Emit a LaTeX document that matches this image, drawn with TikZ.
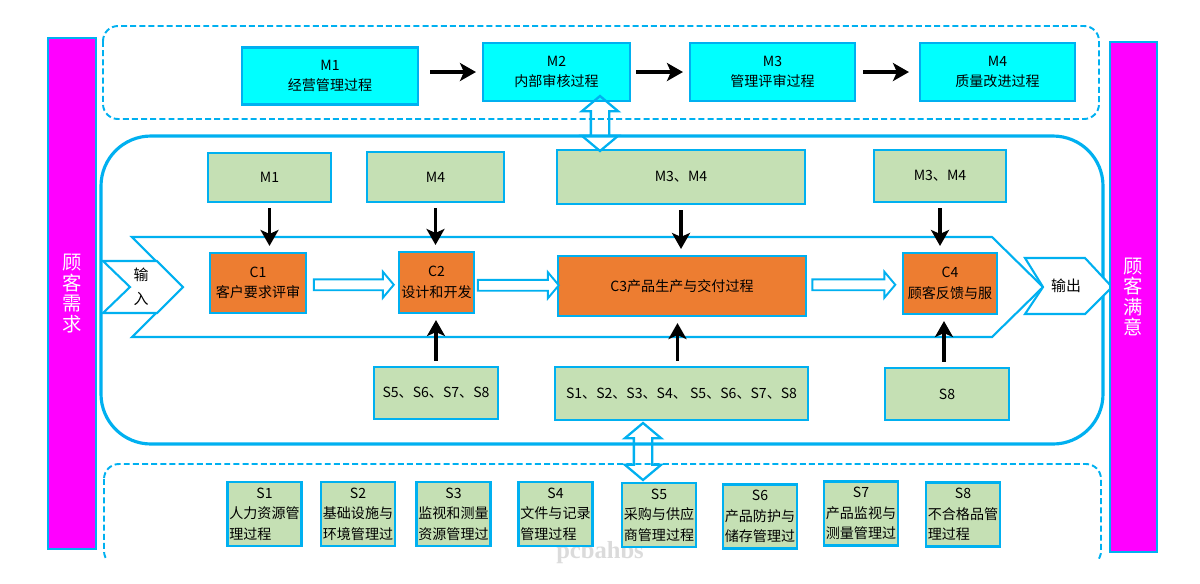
\documentclass[tikz,border=0pt]{standalone}
\usepackage{fontspec}
\setmainfont{Noto Sans CJK SC}
\newfontfamily\wmfont{Liberation Serif}
\usetikzlibrary{positioning}
\usetikzlibrary{calc}
\usetikzlibrary{shapes.arrows}
\usetikzlibrary{arrows.meta}
\definecolor{edgeblue}{HTML}{00B0F0}
\definecolor{mcyan}{HTML}{00FFFF}
\definecolor{resgreen}{HTML}{C5E0B4}
\definecolor{coreorange}{HTML}{ED7D31}
\definecolor{barpink}{HTML}{FF00FF}

\begin{document}
\begin{tikzpicture}[x=0.02cm,y=-0.02cm,
 font=\fontsize{8}{11.7}\selectfont,
 mproc/.style={draw=edgeblue,fill=mcyan,line width=1.2pt,inner sep=0pt,align=center},
 res/.style={draw=edgeblue,fill=resgreen,line width=1.2pt,inner sep=0pt,align=center},
 core/.style={draw=edgeblue,fill=coreorange,line width=1.2pt,inner sep=0pt,align=center},
 sproc/.style={draw=edgeblue,fill=resgreen,line width=1.2pt,inner sep=0pt,align=left,
   minimum width=1.48cm,minimum height=1.28cm},
 bar/.style={draw=edgeblue,fill=barpink,line width=1.2pt,inner sep=0pt,align=center,
   text=white,font=\fontsize{11}{11.6}\selectfont},
 frame/.style={draw=edgeblue,line width=1.1pt,dash pattern=on 3.4pt off 1.8pt,rounded corners=0.3cm},
 chev/.style={draw=edgeblue,fill=white,line width=1.2pt},
 blk/.style={line width=2.2pt,-{Stealth[length=0.32cm,width=0.36cm,inset=0.08cm]},
   shorten <=0.1cm,shorten >=0.12cm},
 flow/.style={single arrow,draw=edgeblue,fill=white,line width=1.1pt,inner sep=0.09cm,
   single arrow head extend=0.15cm,single arrow tip angle=100,minimum width=0pt},
 link/.style={double arrow,draw=edgeblue,line width=1.3pt,inner sep=0.16cm,rotate=90,
   double arrow head extend=0.18cm,double arrow tip angle=100,minimum width=0pt}]
 \useasboundingbox (0,0) rectangle (1200,583);

 % frames
 \draw[frame] (103,26) rectangle (1099,119);
 \begin{scope}
  \clip (0,440) rectangle (1200,558);
  \draw[frame] (104,464) rectangle (1101,566);
 \end{scope}
 \draw[draw=edgeblue,line width=1.8pt,rounded corners=1cm] (101,136) rectangle (1103,444);
 \node[text=gray!28,font=\wmfont\bfseries\fontsize{14}{14}\selectfont] (wm) at (600,553) {pcbahbs};

 % main flow band
 \draw[chev] (132,237) -- (992,237) -- (1043,287) -- (992,337) -- (132,337) -- (182,287) -- cycle;
 \draw[chev] (103,261) -- (157,261) -- (183,287) -- (157,313) -- (103,313) -- (130,287) -- cycle;
 \draw[chev] (1025,258) -- (1085,258) -- (1112,287) -- (1085,314) -- (1025,314) -- (1043,287) -- cycle;
 \node[font=\fontsize{8.5}{13.6}\selectfont,align=center] (inTxt) at (141,287) {输\\入};
 \node[font=\fontsize{8.5}{10}\selectfont] (outTxt) at (1066,286) {输出};

 % customer bars
 \node[bar,minimum width=0.96cm,minimum height=10.22cm] (need) at (72,293.5) {顾\\客\\需\\求};
 \node[bar,minimum width=0.94cm,minimum height=10.2cm] (satis) at (1133.5,297) {顾\\客\\满\\意};

 % management processes
 \node[mproc,minimum width=3.52cm,minimum height=1.14cm] (mA) at (330,76) {M1\\经营管理过程};
 \node[mproc,minimum width=2.94cm,minimum height=1.16cm] (mB) at (556.5,72) {M2\\内部审核过程};
 \node[mproc,minimum width=3.3cm,minimum height=1.16cm] (mC) at (772.5,72) {M3\\管理评审过程};
 \node[mproc,minimum width=3.1cm,minimum height=1.16cm] (mD) at (997.5,72) {M4\\质量改进过程};
 \draw[blk,shorten <=0.22cm] (mA.east |- mB.west) -- (mB.west);
 \draw[blk] (mB.east) -- (mC.west);
 \draw[blk,shorten <=0.14cm,shorten >=0.2cm] (mC.east) -- (mD.west);

 % inputs from M
 \node[res,minimum width=2.46cm,minimum height=0.98cm] (gA) at (269.5,177.5) {M1};
 \node[res,minimum width=2.74cm,minimum height=1.0cm] (gB) at (435.5,177) {M4};
 \node[res,minimum width=4.96cm,minimum height=1.08cm] (gC) at (681,177) {M3、M4};
 \node[res,minimum width=2.64cm,minimum height=1.04cm] (gD) at (940,176) {M3、M4};

 % customer oriented processes
 \node[core,minimum width=1.92cm,minimum height=1.2cm] (cA) at (258,283) {C1\\客户要求评审};
 \node[core,minimum width=1.5cm,minimum height=1.22cm] (cB) at (436.5,282.5) {C2\\设计和开发};
 \node[core,minimum width=4.96cm,minimum height=1.2cm] (cC) at (682,286) {C3产品生产与交付过程};
 \node[core,minimum width=1.88cm,minimum height=1.22cm] (cD) at (950,283.5) {C4\\顾客反馈与服};
 \node[flow,minimum height=1.6cm] (fA) at ($(cA.east)!0.5!(cB.west)+(-1,2)$) {};
 \node[flow,minimum height=1.62cm] (fB) at ($(cB.east)!0.5!(cC.west)+(0,1)$) {};
 \node[flow,minimum height=1.66cm] (fC) at ($(cC.east)!0.5!(cD.west)+(-3,0)$) {};

 % inputs from S
 \node[res,minimum width=2.48cm,minimum height=1.04cm] (sA) at (436,393) {S5、S6、S7、S8};
 \node[res,minimum width=5.06cm,minimum height=1.06cm] (sB) at (681.5,393.5) {S1、S2、S3、S4、 S5、S6、S7、S8};
 \node[res,minimum width=2.48cm,minimum height=1.04cm] (sC) at (947,394) {S8};

 \draw[blk] (gA.south) -- (gA.south |- cA.north);
 \draw[blk] (gB.south) -- (gB.south |- cB.north);
 \draw[blk] (gC.south) -- (gC.south |- cC.north);
 \draw[blk] (gD.south) -- (gD.south |- cD.north);
 \draw[blk] (sA.north) -- (sA.north |- cB.south);
 \draw[blk] ($(sB.north)+(-4,0)$) -- ($(sB.north |- cC.south)+(-4,0)$);
 \draw[blk] ($(sC.north)+(-3,0)$) -- ($(sC.north |- cD.south)+(-3,0)$);

 % support processes
 \node[sproc] (s1) at (264.5,514) {\makebox[5em]{S1}\\人力资源管\\理过程};
 \node[sproc] (s2) at (358,514) {\makebox[5em]{S2}\\基础设施与\\环境管理过};
 \node[sproc] (s3) at (453.5,514) {\makebox[5em]{S3}\\监视和测量\\资源管理过};
 \node[sproc] (s4) at (555.5,514) {\makebox[5em]{S4}\\文件与记录\\管理过程};
 \node[sproc] (s5) at (659,515) {\makebox[5em]{S5}\\采购与供应\\商管理过程};
 \node[sproc] (s6) at (760,516.5) {\makebox[5em]{S6}\\产品防护与\\储存管理过};
 \node[sproc] (s7) at (861,513.5) {\makebox[5em]{S7}\\产品监视与\\测量管理过};
 \node[sproc] (s8) at (963,514.5) {\makebox[5em]{S8}\\不合格品管\\理过程};

 % links between layers
 \node[link,minimum height=1.1cm] (lA) at (600,123.5) {};
 \node[link,minimum height=1.14cm] (lB) at (643,451.5) {};
\end{tikzpicture}
\end{document}
